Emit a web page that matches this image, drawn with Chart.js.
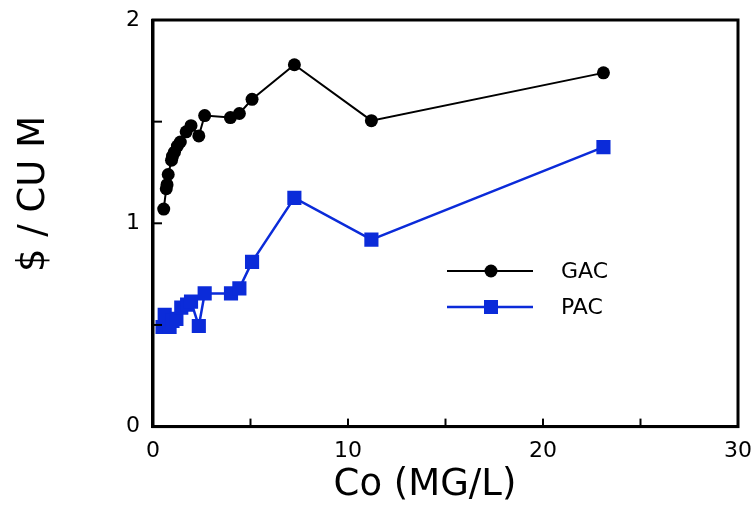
<!DOCTYPE html>
<html>
<head>
<meta charset="utf-8">
<script src="https://cdn.jsdelivr.net/npm/chart.js@4"></script>
<style>
  body { margin: 0; background: #fff; }
  #wrap { width: 756px; height: 506px; }
</style>
</head>
<body>
<div id="wrap"><canvas id="grafico"></canvas></div>
<script>
// datos
const gacX = [0.55, 0.68, 0.72, 0.78, 0.95, 1.0, 1.1, 1.25, 1.4, 1.7, 1.95, 2.35, 2.65, 3.97, 4.43, 5.08, 7.25, 11.2, 23.1];
const gacY = [1.07, 1.17, 1.19, 1.24, 1.31, 1.33, 1.35, 1.38, 1.40, 1.45, 1.48, 1.43, 1.53, 1.52, 1.54, 1.61, 1.78, 1.505, 1.74];
const pacX = [0.49, 0.6, 0.7, 0.85, 1.0, 1.2, 1.45, 1.75, 1.95, 2.35, 2.65, 4.0, 4.43, 5.08, 7.25, 11.2, 23.1];
const pacY = [0.49, 0.55, 0.5, 0.49, 0.52, 0.53, 0.585, 0.6, 0.615, 0.495, 0.655, 0.655, 0.68, 0.81, 1.125, 0.92, 1.375];
const xTicks = [0, 10, 20, 30];
const yTicks = [0, 1, 2];
const etiquetas = ["GAC", "PAC"];
const tituloX = "Co (MG/L)";
const tituloY = "$ / CU M";

const negro = "#000000";
const azul = "#0b2bd9";
const fuente = "'DejaVu Sans', sans-serif";

const puntos = (xs, ys) => xs.map((x, i) => ({ x: x, y: ys[i] }));

// marco, ticks hacia adentro, titulos y leyenda dentro del area
const extras = {
  id: "extras",
  afterDraw(chart) {
    const ctx = chart.ctx;
    const a = chart.chartArea;
    const sx = chart.scales.x;
    const sy = chart.scales.y;
    ctx.save();
    ctx.strokeStyle = negro;
    ctx.lineWidth = 3;
    ctx.strokeRect(a.left, a.top, a.right - a.left, a.bottom - a.top);
    ctx.lineWidth = 2;
    [5, 10, 15, 20, 25].forEach((v) => {
      const px = sx.getPixelForValue(v);
      ctx.beginPath();
      ctx.moveTo(px, a.bottom);
      ctx.lineTo(px, a.bottom - 8);
      ctx.stroke();
    });
    [0.5, 1, 1.5].forEach((v) => {
      const py = sy.getPixelForValue(v);
      ctx.beginPath();
      ctx.moveTo(a.left, py);
      ctx.lineTo(a.left + 9, py);
      ctx.stroke();
    });
    // titulos de ejes
    ctx.fillStyle = negro;
    ctx.font = "37px " + fuente;
    ctx.textAlign = "center";
    ctx.textBaseline = "alphabetic";
    ctx.fillText(tituloX, 425, 495);
    ctx.save();
    ctx.translate(44, 194);
    ctx.rotate(-Math.PI / 2);
    ctx.fillText(tituloY, 0, 0);
    ctx.restore();
    // leyenda
    const ds = chart.data.datasets;
    const fila = [271, 307];
    ctx.textAlign = "left";
    ds.forEach((d, i) => {
      const y = fila[i];
      ctx.strokeStyle = d.borderColor;
      ctx.lineWidth = d.borderWidth;
      ctx.beginPath();
      ctx.moveTo(447, y);
      ctx.lineTo(533, y);
      ctx.stroke();
      ctx.fillStyle = d.backgroundColor;
      if (d.pointStyle === "rect") {
        ctx.fillRect(484, y - 7, 14, 14);
      } else {
        ctx.beginPath();
        ctx.arc(491, y, 6.5, 0, Math.PI * 2);
        ctx.fill();
      }
      ctx.fillStyle = negro;
      ctx.font = "22px " + fuente;
      ctx.textBaseline = "middle";
      ctx.fillText(d.label, 561, y + 1);
    });
    ctx.restore();
  }
};

new Chart(document.getElementById("grafico"), {
  type: "scatter",
  data: {
    datasets: [
      {
        label: etiquetas[0],
        data: puntos(gacX, gacY),
        showLine: true,
        borderColor: negro,
        backgroundColor: negro,
        borderWidth: 2,
        pointStyle: "circle",
        pointRadius: 6.5,
        pointBorderWidth: 0
      },
      {
        label: etiquetas[1],
        data: puntos(pacX, pacY),
        showLine: true,
        borderColor: azul,
        backgroundColor: azul,
        borderWidth: 2.5,
        pointStyle: "rect",
        pointRadius: 10,
        pointBorderWidth: 0
      }
    ]
  },
  options: {
    responsive: true,
    maintainAspectRatio: false,
    animation: false,
    layout: { padding: { top: 0, right: 0, left: 113, bottom: 31 } },
    plugins: { legend: { display: false }, tooltip: { enabled: false } },
    scales: {
      x: {
        type: "linear",
        min: 0,
        max: 30,
        afterBuildTicks: (s) => { s.ticks = xTicks.map((v) => ({ value: v })); },
        afterFit: (s) => { s.paddingRight = 18; s.paddingLeft = 0; },
        grid: { display: false, drawTicks: false },
        border: { display: true, color: negro, width: 3 },
        ticks: { color: negro, font: { family: fuente, size: 22, lineHeight: 1.2 }, padding: 11, maxRotation: 0 }
      },
      y: {
        type: "linear",
        min: 0,
        max: 2,
        afterBuildTicks: (s) => { s.ticks = yTicks.map((v) => ({ value: v })); },
        afterFit: (s) => { s.paddingTop = 20; s.paddingBottom = 0; },
        grid: { display: false, drawTicks: false },
        border: { display: true, color: negro, width: 3 },
        ticks: { color: negro, font: { family: fuente, size: 22, lineHeight: 1.2 }, padding: 13 }
      }
    }
  },
  plugins: [extras]
});
</script>
</body>
</html>
